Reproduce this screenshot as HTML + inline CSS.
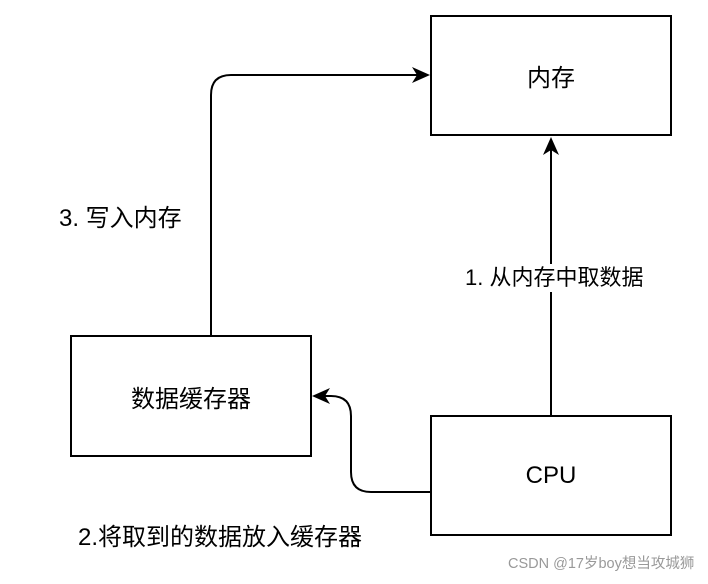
<!DOCTYPE html>
<html><head><meta charset="utf-8"><style>
body{margin:0;width:708px;height:584px;background:#fff;position:relative;overflow:hidden;font-family:"Liberation Sans","Noto Sans CJK SC",sans-serif;}
.box{position:absolute;border:2px solid #000;box-sizing:border-box;display:flex;align-items:center;justify-content:center;font-size:24px;color:#000;}
.t{position:absolute;font-size:24px;color:#000;white-space:nowrap;line-height:30px;}
</style></head><body>
<div class="box" style="left:430px;top:15px;width:242px;height:121px;">内存</div>
<div class="box" style="left:70px;top:335px;width:242px;height:122px;">数据缓存器</div>
<div class="box" style="left:430px;top:415px;width:242px;height:121px;">CPU</div>
<svg width="708" height="584" style="position:absolute;left:0;top:0">
<g fill="none" stroke="#000" stroke-width="2">
<path d="M551 415 V150"/>
<path d="M211 335 V95 Q211 75 231 75 H418"/>
<path d="M430 492 H371 Q351 492 351 472 V416 Q351 396 331 396 H324"/>
</g>
<polygon points="551,137 543,155 551,150 559,155" fill="#000"/>
<polygon points="430,75 412,67 417,75 412,83" fill="#000"/>
<polygon points="312,396 330,388 325,396 330,404" fill="#000"/>
</svg>
<div class="t" style="left:59px;top:204px;">3. 写入内存</div>
<div class="t" style="left:465px;top:264px;font-size:22px;line-height:28px;background:#fff;">1. 从内存中取数据</div>
<div class="t" style="left:78px;top:523px;">2.将取到的数据放入缓存器</div>
<div class="t" style="left:508px;top:555px;font-size:14.5px;line-height:18px;color:#999;">CSDN @17岁boy想当攻城狮</div>
</body></html>
